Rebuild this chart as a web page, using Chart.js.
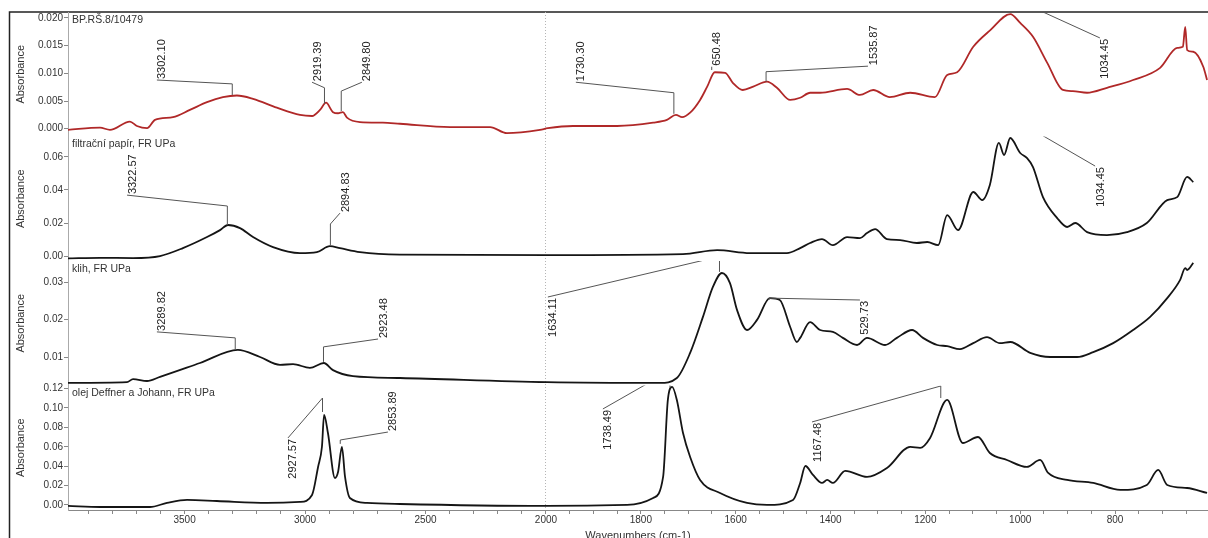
<!DOCTYPE html>
<html>
<head>
<meta charset="utf-8">
<title>FTIR spektra</title>
<script src="https://cdn.jsdelivr.net/npm/chart.js@4.4.1/dist/chart.umd.min.js"></script>
<style>
  html, body { margin: 0; padding: 0; background: #fff; overflow: hidden; }
  #spectra { display: block; }
</style>
</head>
<body>
<canvas id="spectra" width="1208" height="538"></canvas>
<script>
// --- data (wavenumber cm-1 / absorbance) ---
const bpWavenumbers = [3984,3851,3810,3727,3698,3656,3623,3548,3478,3407,3341,3283,3216,3117,3021,2971,2938,2913,2884,2863,2843,2826,2772,2677,2606,2398,2232,2162,2025,1996,1943,1850,1774,1745,1726,1713,1696,1675,1660,1644,1622,1606,1585,1563,1534,1513,1485,1464,1443,1422,1365,1338,1310,1275,1232,1180,1154,1133,1099,1063,1021,1000,973,943,910,889,859,817,762,705,669,657,652,648,635,614,606];
const bpAbsorbance = [-0.0002,0.0002,-0.0002,0.0013,0.0005,0.0001,0.0016,0.0021,0.0034,0.0048,0.0057,0.0060,0.0054,0.0038,0.0025,0.0023,0.0034,0.0047,0.0030,0.0028,0.0030,0.0020,0.0012,0.0011,0.0009,0.0003,0.0003,-0.0008,-0.0002,0.0001,0.0005,0.0005,0.0011,0.0016,0.0025,0.0021,0.0029,0.0052,0.0076,0.0102,0.0101,0.0083,0.0070,0.0076,0.0085,0.0074,0.0052,0.0056,0.0065,0.0065,0.0072,0.0061,0.0070,0.0057,0.0065,0.0057,0.0097,0.0102,0.0148,0.0178,0.0207,0.0191,0.0166,0.0119,0.0070,0.0068,0.0065,0.0074,0.0088,0.0110,0.0146,0.0148,0.0184,0.0142,0.0139,0.0112,0.0088];

const paperWavenumbers = [3984,3851,3714,3602,3507,3407,3353,3320,3270,3216,3133,3021,2951,2897,2855,2772,2606,1998,1711,1639,1570,1492,1464,1443,1418,1395,1365,1338,1323,1306,1281,1253,1218,1196,1173,1154,1131,1099,1080,1064,1045,1034,1021,1000,986,973,952,922,901,884,859,817,775,733,690,669,648,635];
const paperAbsorbance = [-0.0014,-0.0011,-0.0012,0.0000,0.0048,0.0115,0.0157,0.0188,0.0169,0.0115,0.0054,0.0018,0.0024,0.0060,0.0048,0.0024,0.0009,0.0006,0.0012,0.0036,0.0018,0.0018,0.0048,0.0079,0.0103,0.0066,0.0115,0.0109,0.0139,0.0163,0.0103,0.0097,0.0079,0.0085,0.0066,0.0248,0.0157,0.0388,0.0339,0.0430,0.0685,0.0612,0.0715,0.0624,0.0594,0.0539,0.0357,0.0230,0.0176,0.0200,0.0145,0.0127,0.0145,0.0200,0.0339,0.0357,0.0479,0.0448];

const glueWavenumbers = [3984,3739,3714,3656,3602,3436,3279,3187,3104,3050,2980,2922,2884,2801,2606,1998,1760,1724,1696,1669,1648,1629,1612,1597,1576,1555,1528,1507,1485,1471,1464,1443,1422,1395,1374,1344,1323,1285,1260,1228,1205,1175,1154,1127,1099,1070,1043,1021,979,937,880,846,804,762,726,690,663,652,648,635];
const glueAbsorbance = [0.0031,0.0033,0.0041,0.0036,0.0047,0.0084,0.0119,0.0100,0.0079,0.0081,0.0071,0.0084,0.0065,0.0049,0.0044,0.0033,0.0031,0.0044,0.0111,0.0207,0.0287,0.0324,0.0297,0.0225,0.0172,0.0199,0.0257,0.0252,0.0180,0.0140,0.0151,0.0193,0.0172,0.0167,0.0151,0.0132,0.0151,0.0132,0.0151,0.0172,0.0151,0.0132,0.0129,0.0121,0.0137,0.0153,0.0137,0.0140,0.0111,0.0100,0.0100,0.0113,0.0137,0.0172,0.0207,0.0257,0.0305,0.0337,0.0332,0.0351];

const oilWavenumbers = [3984,3851,3644,3573,3490,3366,3158,3021,2971,2946,2930,2921,2905,2876,2863,2847,2834,2814,2743,2606,1998,1829,1774,1753,1743,1734,1724,1711,1696,1675,1633,1576,1534,1479,1464,1453,1437,1418,1407,1395,1369,1323,1281,1232,1211,1190,1154,1121,1089,1064,1028,986,958,941,901,846,789,733,709,690,648,606];
const oilAbsorbance = [-0.0010,-0.0021,-0.0021,0.0021,0.0052,0.0041,0.0021,0.0031,0.0103,0.0392,0.0598,0.0928,0.0742,0.0278,0.0340,0.0598,0.0289,0.0072,0.0021,0.0010,-0.0010,0.0000,0.0072,0.0289,0.1083,0.1217,0.1083,0.0742,0.0495,0.0258,0.0124,0.0021,0.0000,0.0052,0.0227,0.0402,0.0309,0.0227,0.0258,0.0227,0.0351,0.0289,0.0381,0.0598,0.0588,0.0691,0.1083,0.0639,0.0701,0.0536,0.0464,0.0392,0.0464,0.0330,0.0258,0.0227,0.0155,0.0206,0.0361,0.0206,0.0175,0.0124];

const xMajorTicks = [3500, 3000, 2500, 2000, 1800, 1600, 1400, 1200, 1000, 800];
const bpTicks = [0, 0.005, 0.01, 0.015, 0.02];
const paperTicks = [0, 0.02, 0.04, 0.06];
const glueTicks = [0.01, 0.02, 0.03];
const oilTicks = [0, 0.02, 0.04, 0.06, 0.08, 0.1, 0.12];

// peak labels: label anchor [wavenumber, absorbance], leader corner above the peak
const panels = [
    { axis: 'yBP', name: 'BP.RŠ.8/10479', peaks: [
        { text: '3302.10', peak: 3302.1, top: 0.0081, tip: 0.0061, at: [3615, 0.0088] },
        { text: '2919.39', peak: 2919.39, top: 0.0074, tip: 0.0045, at: [2971, 0.0084] },
        { text: '2849.80', peak: 2849.8, top: 0.0068, tip: 0.0032, at: [2764, 0.0084] },
        { text: '1730.30', peak: 1730.3, top: 0.0065, tip: 0.0027, at: [1937, 0.0084] },
        { text: '650.48', peak: 1650.48, top: 0.0112, tip: 0.0106, at: [1650.48, 0.0112] },
        { text: '1535.87', peak: 1535.87, top: 0.0103, tip: 0.0085, at: [1321, 0.0113] },
        { text: '1034.45', peak: 1034.45, top: 0.0243, tip: 0.0243, at: [832, 0.0164], end: true }
    ]},
    { axis: 'yPaper', name: 'filtrační papír, FR UPa', peaks: [
        { text: '3322.57', peak: 3322.57, top: 0.0303, tip: 0.0188, at: [3739, 0.0369] },
        { text: '2894.83', peak: 2894.83, top: 0.0194, tip: 0.0067, at: [2855, 0.0260] },
        { text: '1034.45', peak: 1034.45, top: 0.0866, tip: 0.0866, at: [842, 0.0545], end: true }
    ]},
    { axis: 'yGlue', name: 'klih, FR UPa', peaks: [
        { text: '3289.82', peak: 3289.82, top: 0.0151, tip: 0.0119, at: [3615, 0.0167] },
        { text: '2923.48', peak: 2923.48, top: 0.0127, tip: 0.0087, at: [2697, 0.0148] },
        { text: '1634.11', peak: 1634.11, top: 0.0368, tip: 0.0327, at: [1996, 0.0260], end: true },
        { text: '529.73', peak: 1529.73, top: 0.0257, tip: 0.0252, at: [1338, 0.0252], end: true }
    ]},
    { axis: 'yOil', name: 'olej Deffner a Johann, FR UPa', peaks: [
        { text: '2927.57', peak: 2927.57, top: 0.1103, tip: 0.0959, at: [3071, 0.0691], end: true },
        { text: '2853.89', peak: 2853.89, top: 0.0670, tip: 0.0630, at: [2656, 0.0752] },
        { text: '1738.49', peak: 1738.49, top: 0.1385, tip: 0.121, at: [1880, 0.0990], end: true },
        { text: '1167.48', peak: 1167.48, top: 0.1227, tip: 0.1103, at: [1439, 0.0856], end: true }
    ]}
];

const FONT = 'Liberation Sans, Arial, sans-serif';
Chart.defaults.font.family = FONT;
Chart.defaults.font.size = 10;
Chart.defaults.color = '#333';

// wavenumber axis is compressed (x0.5) above 2000 cm-1, like the OMNIC plot
const SPLIT_AT = 2000;
const HIGH_FACTOR = 0.508;
function warp(v) { return v <= SPLIT_AT ? v : SPLIT_AT + (v - SPLIT_AT) * HIGH_FACTOR; }
function unwarp(u) { return u <= SPLIT_AT ? u : SPLIT_AT + (u - SPLIT_AT) / HIGH_FACTOR; }

class SplitScale extends Chart.LinearScale {
    static id = 'split';
    static defaults = Chart.LinearScale.defaults;
    getPixelForValue(value) {
        const a = warp(this.min), b = warp(this.max);
        return this.getPixelForDecimal((warp(value) - a) / (b - a));
    }
    getValueForPixel(pixel) {
        const a = warp(this.min), b = warp(this.max);
        return unwarp(a + this.getDecimalForPixel(pixel) * (b - a));
    }
}
Chart.register(SplitScale);

function toPoints(xs, ys) {
    return xs.map((x, i) => ({ x: x, y: ys[i] }));
}

function panelAxis(min, max, tickValues, decimals) {
    return {
        type: 'linear',
        position: 'left',
        stack: 'panels',
        stackWeight: 1,
        bounds: 'data',
        min: min,
        max: max,
        afterBuildTicks: axis => { axis.ticks = tickValues.map(v => ({ value: v })); },
        afterFit: axis => { axis.width = 68; },
        ticks: { autoSkip: false, padding: 1, callback: v => v.toFixed(decimals) },
        grid: { drawOnChartArea: false, tickLength: 4, tickColor: '#888' },
        border: { color: '#aaa' },
        title: { display: true, text: 'Absorbance', font: { size: 11 }, padding: { top: 14, bottom: 0 } }
    };
}

const xTickValues = [];
for (let v = 3900; v > SPLIT_AT; v -= 100) xTickValues.push(v);
for (let v = SPLIT_AT; v >= 650; v -= 50) xTickValues.push(v);

const framePlugin = {
    id: 'frame',
    beforeDraw(chart) {
        const ctx = chart.ctx;
        ctx.save();
        ctx.fillStyle = '#fff';
        ctx.fillRect(0, 0, chart.width, chart.height);
        ctx.strokeStyle = '#222';
        ctx.lineWidth = 1.5;
        ctx.beginPath();
        ctx.moveTo(9.5, chart.height);
        ctx.lineTo(9.5, chart.chartArea.top);
        ctx.lineTo(chart.width, chart.chartArea.top);
        ctx.stroke();
        ctx.restore();
    }
};

const peakLabelPlugin = {
    id: 'peakLabels',
    afterDatasetsDraw(chart) {
        const ctx = chart.ctx;
        const xs = chart.scales.x;
        const area = chart.chartArea;
        ctx.save();
        panels.forEach(panel => {
            const ys = chart.scales[panel.axis];
            ctx.fillStyle = '#333';
            ctx.font = '10.5px ' + FONT;
            ctx.textAlign = 'left';
            ctx.textBaseline = 'middle';
            ctx.fillText(panel.name, area.left + 4, ys.top + 8);

            ctx.save();
            ctx.beginPath();
            ctx.rect(area.left, ys.top, area.right - area.left, ys.bottom - ys.top);
            ctx.clip();
            ctx.font = '11px ' + FONT;
            panel.peaks.forEach(p => {
                const ax = xs.getPixelForValue(p.at[0]);
                const ay = ys.getPixelForValue(p.at[1]);
                const px = xs.getPixelForValue(p.peak);
                ctx.strokeStyle = '#555';
                ctx.lineWidth = 1;
                ctx.beginPath();
                ctx.moveTo(ax, ay);
                ctx.lineTo(px, ys.getPixelForValue(p.top));
                ctx.lineTo(px, ys.getPixelForValue(p.tip));
                ctx.stroke();

                ctx.save();
                ctx.translate(ax, ay);
                ctx.rotate(-Math.PI / 2);
                ctx.fillStyle = '#222';
                ctx.textBaseline = 'top';
                ctx.textAlign = p.end ? 'right' : 'left';
                ctx.fillText(p.text, p.end ? -1 : 1, 0);
                ctx.restore();
            });
            ctx.restore();
        });
        ctx.restore();
    }
};

function lineSet(label, points, axis, color) {
    return {
        label: label,
        data: points,
        yAxisID: axis,
        borderColor: color,
        borderWidth: 1.8,
        pointRadius: 0,
        cubicInterpolationMode: 'monotone',
        fill: false
    };
}

new Chart(document.getElementById('spectra'), {
    type: 'line',
    data: {
        datasets: [
            lineSet('BP.RŠ.8/10479', toPoints(bpWavenumbers, bpAbsorbance), 'yBP', '#b02828'),
            lineSet('filtrační papír, FR UPa', toPoints(paperWavenumbers, paperAbsorbance), 'yPaper', '#151515'),
            lineSet('klih, FR UPa', toPoints(glueWavenumbers, glueAbsorbance), 'yGlue', '#151515'),
            lineSet('olej Deffner a Johann, FR UPa', toPoints(oilWavenumbers, oilAbsorbance), 'yOil', '#151515')
        ]
    },
    options: {
        responsive: false,
        animation: false,
        devicePixelRatio: 1,
        layout: { padding: { top: 12, left: 0, right: 0, bottom: 0 } },
        plugins: { legend: { display: false }, tooltip: { enabled: false } },
        scales: {
            x: {
                type: 'split',
                position: 'bottom',
                reverse: true,
                min: 604,
                max: 3984,
                bounds: 'data',
                afterBuildTicks: axis => { axis.ticks = xTickValues.map(v => ({ value: v })); },
                afterFit: axis => { axis.height = 28; },
                ticks: {
                    autoSkip: false,
                    maxRotation: 0,
                    padding: 0,
                    callback: v => xMajorTicks.includes(v) ? String(v) : ''
                },
                grid: {
                    color: c => (c.tick && c.tick.value === SPLIT_AT) ? '#b5b5b5' : 'rgba(0,0,0,0)',
                    tickColor: '#888',
                    tickLength: 4
                },
                border: { color: '#888', dash: [1, 2] },
                title: { display: true, text: 'Wavenumbers (cm-1)', font: { size: 11 }, padding: { top: 0, bottom: -5 } }
            },
            // stacked panels: last defined sits on top
            yOil: panelAxis(-0.0052, 0.1232, oilTicks, 2),
            yGlue: panelAxis(0.0024, 0.0356, glueTicks, 2),
            yPaper: panelAxis(-0.0030, 0.0724, paperTicks, 2),
            yBP: panelAxis(-0.0014, 0.02108, bpTicks, 3)
        }
    },
    plugins: [framePlugin, peakLabelPlugin]
});
</script>
</body>
</html>
